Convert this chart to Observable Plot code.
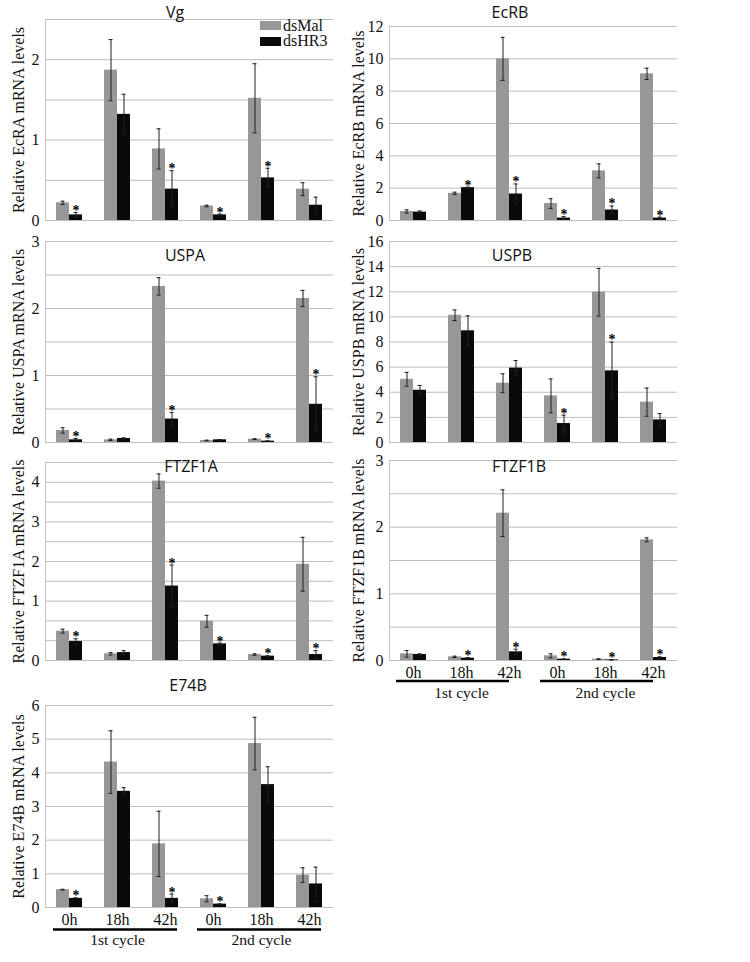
<!DOCTYPE html>
<html><head><meta charset="utf-8">
<script src="https://cdn.jsdelivr.net/npm/d3@7"></script>
<script src="https://cdn.jsdelivr.net/npm/@observablehq/plot@0.6"></script>
<style>
body{margin:0;background:#fff;}
#wrap{position:relative;width:750px;height:962px;overflow:hidden;font-family:"Liberation Serif",serif;color:#111;}
.panel{position:absolute;}
.title{position:absolute;font-family:"Open Sans",sans-serif;font-size:16px;line-height:18px;transform:translate(-50%,-50%);white-space:nowrap;color:#111;}
.legend{position:absolute;font-family:"Liberation Serif",serif;font-size:16px;line-height:16px;}
.legend .row{display:flex;align-items:center;height:15.5px;}
.legend .sw{width:21px;height:9px;margin-right:2px;}
</style></head>
<body><div id="wrap"></div>
<script>
// ---- categories ----
const series = ["dsMal", "dsHR3"];
const seriesColors = ["#979797", "#0a0a0a"];
const timepoints = ["0h", "18h", "42h"];
const cycles = ["1st cycle", "2nd cycle"];

// ---- Vg (EcRA axis) ----
const vgMal = [0.22, 1.87, 0.89, 0.18, 1.52, 0.39];
const vgMalErr = [0.02, 0.38, 0.25, 0.01, 0.43, 0.08];
const vgHr3 = [0.07, 1.32, 0.39, 0.07, 0.53, 0.19];
const vgHr3Err = [0.03, 0.25, 0.23, 0.01, 0.12, 0.10];
const vgStars = [1, 0, 1, 1, 1, 0];
const vgGrid = [0, 0.5, 1, 1.5, 2, 2.5];
const vgTicks = [0, 1, 2];

// ---- EcRB ----
const ecrbMal = [0.56, 1.68, 10.0, 1.05, 3.07, 9.07];
const ecrbMalErr = [0.10, 0.07, 1.33, 0.30, 0.43, 0.35];
const ecrbHr3 = [0.52, 2.03, 1.64, 0.15, 0.65, 0.15];
const ecrbHr3Err = [0.07, 0.04, 0.62, 0.09, 0.25, 0.06];
const ecrbStars = [0, 1, 1, 1, 1, 1];
const ecrbGrid = [0, 2, 4, 6, 8, 10, 12];
const ecrbTicks = [0, 2, 4, 6, 8, 10, 12];

// ---- USPA ----
const uspaMal = [0.18, 0.04, 2.33, 0.03, 0.05, 2.15];
const uspaMalErr = [0.04, 0.01, 0.13, 0.005, 0.005, 0.12];
const uspaHr3 = [0.04, 0.06, 0.35, 0.04, 0.02, 0.57];
const uspaHr3Err = [0.02, 0.01, 0.10, 0.005, 0.005, 0.41];
const uspaStars = [1, 0, 1, 0, 1, 1];
const uspaGrid = [0, 0.5, 1, 1.5, 2, 2.5, 3];
const uspaTicks = [0, 1, 2, 3];

// ---- USPB ----
const uspbMal = [5.03, 10.13, 4.72, 3.71, 11.96, 3.21];
const uspbMalErr = [0.55, 0.42, 0.75, 1.35, 1.90, 1.12];
const uspbHr3 = [4.16, 8.89, 5.92, 1.51, 5.70, 1.80];
const uspbHr3Err = [0.38, 1.20, 0.60, 0.67, 2.30, 0.50];
const uspbStars = [0, 0, 0, 1, 1, 0];
const uspbGrid = [0, 2, 4, 6, 8, 10, 12, 14, 16];
const uspbTicks = [0, 2, 4, 6, 8, 10, 12, 14, 16];

// ---- FTZF1A ----
const ftzaMal = [0.74, 0.17, 4.53, 0.99, 0.15, 2.43];
const ftzaMalErr = [0.05, 0.03, 0.18, 0.15, 0.02, 0.68];
const ftzaHr3 = [0.48, 0.20, 1.88, 0.42, 0.11, 0.15];
const ftzaHr3Err = [0.07, 0.05, 0.53, 0.02, 0.01, 0.10];
const ftzaStars = [1, 0, 1, 1, 1, 1];
const ftzaGrid = [0, 0.5, 1, 1.5, 2, 2.5, 3, 3.5, 4, 4.5, 5];
const ftzaTicks = [0, 1.5, 2.5, 3.5, 4.5];
const ftzaTickLabels = ["0", "1", "2", "3", "4"];

// ---- FTZF1B ----
const ftzbMal = [0.10, 0.055, 2.21, 0.07, 0.02, 1.81];
const ftzbMalErr = [0.05, 0.01, 0.35, 0.03, 0.005, 0.03];
const ftzbHr3 = [0.09, 0.035, 0.13, 0.02, 0.01, 0.045];
const ftzbHr3Err = [0.01, 0.01, 0.04, 0.005, 0.005, 0.01];
const ftzbStars = [0, 1, 1, 1, 1, 1];
const ftzbGrid = [0, 0.5, 1, 1.5, 2, 2.5, 3];
const ftzbTicks = [0, 1, 2, 3];

// ---- E74B ----
const e74Mal = [0.53, 4.32, 1.89, 0.26, 4.87, 0.96];
const e74MalErr = [0.01, 0.93, 0.97, 0.09, 0.78, 0.22];
const e74Hr3 = [0.27, 3.45, 0.27, 0.10, 3.65, 0.70];
const e74Hr3Err = [0.02, 0.11, 0.13, 0.01, 0.53, 0.50];
const e74Stars = [1, 0, 1, 1, 0, 0];
const e74Grid = [0, 1, 2, 3, 4, 5, 6];
const e74Ticks = [0, 1, 2, 3, 4, 5, 6];

// group keys: "0h|0" ... "42h|1"
const groups = cycles.flatMap((c, ci) => timepoints.map(t => `${t}|${ci}`));
const groupLabel = g => g.split("|")[0];

const SERIF = "Liberation Serif";
const LEFT = {left: 0, width: 345, marginLeft: 45, marginRight: 12, labelOffset: 33};
const RIGHT = {left: 345, width: 345, marginLeft: 42, marginRight: 12, labelOffset: 37};

const panels = [
  {title: "Vg", tx: 175, ty: 12, col: LEFT, top: 0, height: 230, mt: 19, mb: 10,
   ylabel: "Relative EcRA mRNA levels", mal: vgMal, malErr: vgMalErr, hr3: vgHr3, hr3Err: vgHr3Err, stars: vgStars,
   grid: vgGrid, ticks: vgTicks, legend: true},
  {title: "EcRB", tx: 510, ty: 12, col: RIGHT, top: 0, height: 230, mt: 26, mb: 10,
   ylabel: "Relative EcRB mRNA levels", mal: ecrbMal, malErr: ecrbMalErr, hr3: ecrbHr3, hr3Err: ecrbHr3Err, stars: ecrbStars,
   grid: ecrbGrid, ticks: ecrbTicks},
  {title: "USPA", tx: 185, ty: 255, col: LEFT, top: 230, height: 222, mt: 11, mb: 10,
   ylabel: "Relative USPA mRNA levels", mal: uspaMal, malErr: uspaMalErr, hr3: uspaHr3, hr3Err: uspaHr3Err, stars: uspaStars,
   grid: uspaGrid, ticks: uspaTicks},
  {title: "USPB", tx: 512, ty: 255, col: RIGHT, top: 230, height: 222, mt: 11, mb: 10,
   ylabel: "Relative USPB mRNA levels", mal: uspbMal, malErr: uspbMalErr, hr3: uspbHr3, hr3Err: uspbHr3Err, stars: uspbStars,
   grid: uspbGrid, ticks: uspbTicks},
  {title: "FTZF1A", tx: 191, ty: 466, col: LEFT, top: 452, height: 220, mt: 10, mb: 12,
   ylabel: "Relative FTZF1A mRNA levels", mal: ftzaMal, malErr: ftzaMalErr, hr3: ftzaHr3, hr3Err: ftzaHr3Err, stars: ftzaStars,
   grid: ftzaGrid, ticks: ftzaTicks, tickLabels: ftzaTickLabels},
  {title: "FTZF1B", tx: 519, ty: 466, col: RIGHT, top: 452, height: 258, mt: 8, mb: 50,
   ylabel: "Relative FTZF1B mRNA levels", mal: ftzbMal, malErr: ftzbMalErr, hr3: ftzbHr3, hr3Err: ftzbHr3Err, stars: ftzbStars,
   grid: ftzbGrid, ticks: ftzbTicks, xlabels: true, ulLeft: 7, ulRight: 24, ulDy: 20.5},
  {title: "E74B", tx: 188, ty: 685, col: LEFT, top: 672, height: 290, mt: 33, mb: 55,
   ylabel: "Relative E74B mRNA levels", mal: e74Mal, malErr: e74MalErr, hr3: e74Hr3, hr3Err: e74Hr3Err, stars: e74Stars,
   grid: e74Grid, ticks: e74Ticks, xlabels: true, ulLeft: 8, ulRight: 12, ulDy: 22}
];

const wrap = document.getElementById("wrap");
const errColor = "#1e1e1e";

for (const p of panels) {
  const rows = [];
  groups.forEach((g, i) => {
    rows.push({g, s: series[0], v: p.mal[i], e: p.malErr[i], star: false});
    rows.push({g, s: series[1], v: p.hr3[i], e: p.hr3Err[i], star: !!p.stars[i]});
  });
  const marks = [
    Plot.gridY(p.grid, {stroke: "#bdbdbd", strokeOpacity: 1, strokeWidth: 1}),
    Plot.frame({anchor: "left", facetAnchor: "left", stroke: "#c4c4c4"}),
    Plot.barY(rows, {fx: "g", x: "s", y: "v", fill: "s"}),
    Plot.ruleX(rows, {fx: "g", x: "s", y1: d => d.v - d.e, y2: d => d.v + d.e, stroke: errColor, strokeWidth: 1}),
    Plot.tickY(rows, {fx: "g", x: "s", y: d => d.v + d.e, stroke: errColor, insetLeft: 4.5, insetRight: 4.5}),
    Plot.tickY(rows, {fx: "g", x: "s", y: d => d.v - d.e, stroke: errColor, insetLeft: 4.5, insetRight: 4.5}),
    Plot.text(rows.filter(d => d.star), {fx: "g", x: "s", y: d => d.v + d.e, text: () => "*", dy: -2, fontSize: 14, fontWeight: "bold", fontFamily: SERIF, fill: "#000"}),
    Plot.axisY(p.ticks, {
      tickSize: 0, tickPadding: 6, fontFamily: SERIF, fontSize: 16, fill: "#111",
      tickFormat: p.tickLabels ? (d => p.tickLabels[p.ticks.indexOf(d)]) : (d => String(d)),
      label: p.ylabel, labelAnchor: "center", labelArrow: "none", labelOffset: p.col.labelOffset
    })
  ];
  if (p.xlabels) {
    const firsts = groups.filter(g => groupLabel(g) === timepoints[0]);
    const mids = groups.filter(g => groupLabel(g) === timepoints[1]);
    const lasts = groups.filter(g => groupLabel(g) === timepoints[2]);
    marks.push(
      Plot.axisFx({anchor: "bottom", tickSize: 0, tickPadding: 6, tickFormat: groupLabel, label: null, fontSize: 16, fontFamily: SERIF, fill: "#111"}),
      Plot.ruleY(firsts, {fx: d => d, y: () => 0, dy: p.ulDy, strokeWidth: 2.5, insetLeft: p.ulLeft, stroke: "#000"}),
      Plot.ruleY(mids, {fx: d => d, y: () => 0, dy: p.ulDy, strokeWidth: 2.5, stroke: "#000"}),
      Plot.ruleY(lasts, {fx: d => d, y: () => 0, dy: p.ulDy, strokeWidth: 2.5, insetRight: p.ulRight, stroke: "#000"}),
      Plot.text(mids, {fx: d => d, y: () => 0, dy: 33, text: d => cycles[+d.split("|")[1]], fontSize: 15.5, fontFamily: SERIF, fill: "#111"})
    );
  }
  const chart = Plot.plot({
    width: p.col.width, height: p.height,
    marginLeft: p.col.marginLeft, marginRight: p.col.marginRight,
    marginTop: p.mt, marginBottom: p.mb,
    style: {fontFamily: SERIF, fontSize: "15.5px", color: "#111", background: "transparent", overflow: "visible"},
    fx: {domain: groups, padding: 0, axis: null},
    x: {domain: series, paddingInner: 0, paddingOuter: 0.75, axis: null},
    y: {domain: [p.grid[0], p.grid[p.grid.length - 1]]},
    color: {domain: series, range: seriesColors},
    marks
  });
  const div = document.createElement("div");
  div.className = "panel";
  div.style.left = p.col.left + "px";
  div.style.top = p.top + "px";
  div.appendChild(chart);
  wrap.appendChild(div);

  const t = document.createElement("div");
  t.className = "title";
  t.style.left = p.tx + "px";
  t.style.top = p.ty + "px";
  t.textContent = p.title;
  wrap.appendChild(t);

  if (p.legend) {
    const lg = document.createElement("div");
    lg.className = "legend";
    lg.style.left = "260px";
    lg.style.top = "18px";
    series.forEach((s, i) => {
      const r = document.createElement("div");
      r.className = "row";
      const sw = document.createElement("div");
      sw.className = "sw";
      sw.style.background = seriesColors[i];
      const tx = document.createElement("span");
      tx.textContent = s;
      r.appendChild(sw); r.appendChild(tx);
      lg.appendChild(r);
    });
    wrap.appendChild(lg);
  }
}
</script>
</body></html>
